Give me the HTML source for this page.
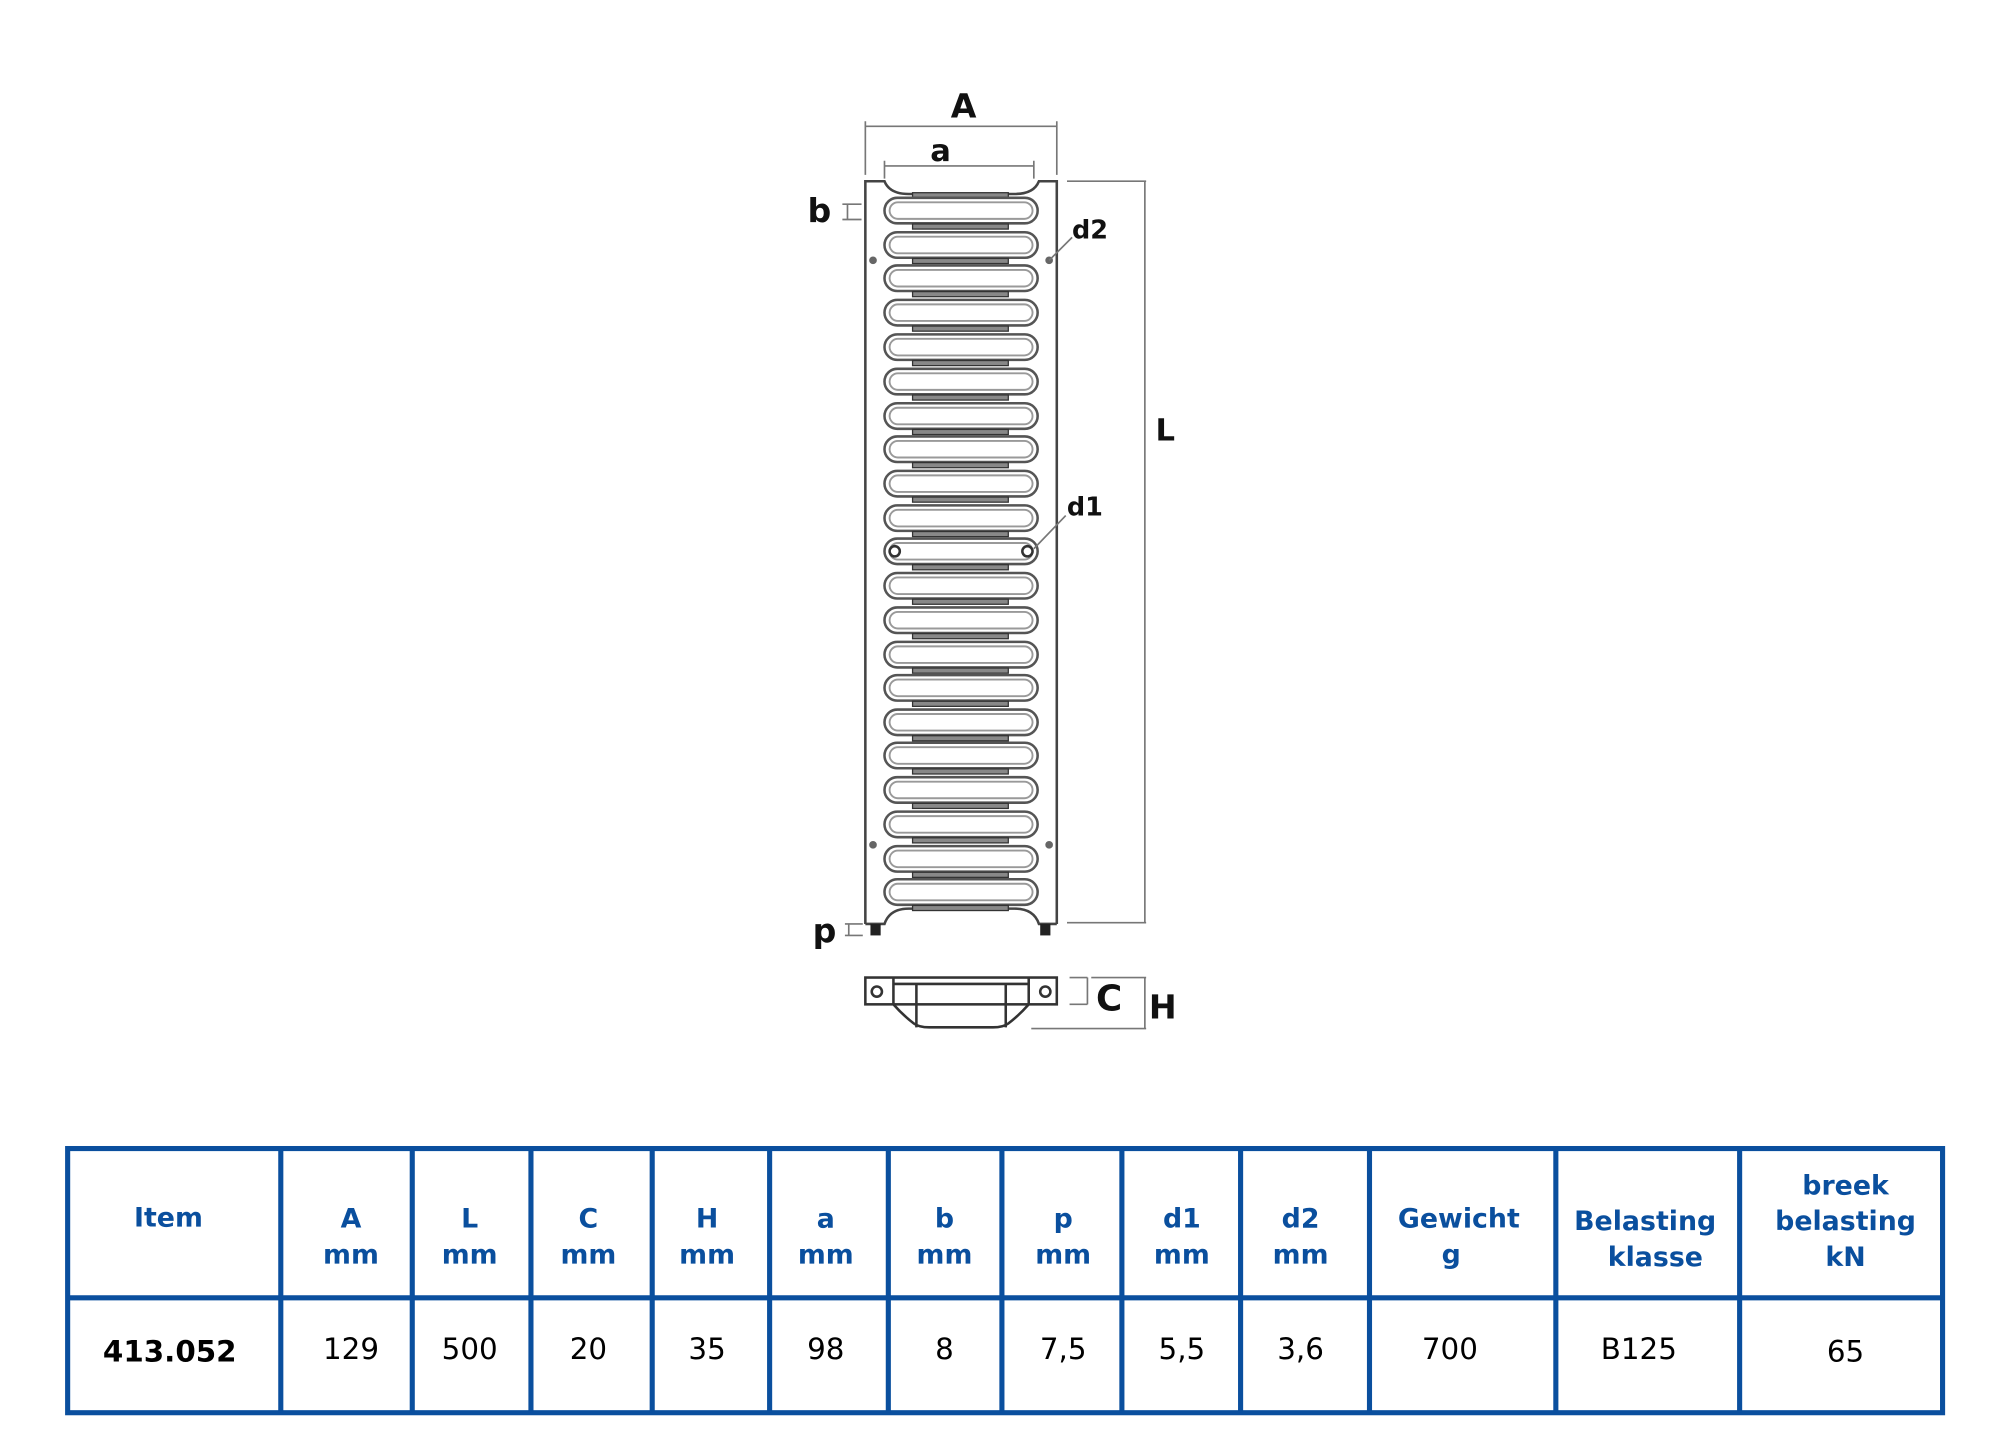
<!DOCTYPE html>
<html><head><meta charset="utf-8"><style>
html,body{margin:0;padding:0;background:#fff}
svg{display:block}
.h{font-family:"DejaVu Sans","Liberation Sans",sans-serif;font-weight:bold;font-size:21px;fill:#0a4f9e;text-anchor:middle}
.v{font-family:"DejaVu Sans","Liberation Sans",sans-serif;font-size:23px;fill:#000;text-anchor:middle}
.d{font-family:"DejaVu Sans","Liberation Sans",sans-serif;font-weight:bold;fill:#111;text-anchor:middle}
</style></head><body>
<svg width="2000" height="1451" viewBox="0 0 1567 1137" preserveAspectRatio="none" xmlns="http://www.w3.org/2000/svg">
<defs>
<g id="s">
<rect x="693" y="-10" width="120" height="20" rx="10" fill="none" stroke="#555" stroke-width="2"/>
<rect x="697" y="-6.5" width="112" height="13" rx="6.5" fill="none" stroke="#999" stroke-width="1.5"/>
<rect x="715" y="10.5" width="75" height="4" fill="#888" stroke="#333" stroke-width="1"/>
</g>
</defs>
<path d="M678 724 V142 H693 Q697 152 712 152 H795 Q810 152 814 142 H828 V724" fill="none" stroke="#444" stroke-width="2"/>
<path d="M678 724 H693 Q697 712 712 712 H795 Q810 712 814 724 H828" fill="none" stroke="#444" stroke-width="2"/>
<rect x="715" y="151" width="75" height="4" fill="#888" stroke="#333" stroke-width="1"/>
<use href="#s" y="165"/><use href="#s" y="192"/><use href="#s" y="218"/><use href="#s" y="245"/>
<use href="#s" y="272"/><use href="#s" y="299"/><use href="#s" y="326"/><use href="#s" y="352"/>
<use href="#s" y="379"/><use href="#s" y="406"/><use href="#s" y="432"/><use href="#s" y="459"/>
<use href="#s" y="486"/><use href="#s" y="513"/><use href="#s" y="539"/><use href="#s" y="566"/>
<use href="#s" y="592"/><use href="#s" y="619"/><use href="#s" y="646"/><use href="#s" y="673"/>
<use href="#s" y="699"/>
<circle cx="701" cy="432" r="4" fill="none" stroke="#333" stroke-width="2"/>
<circle cx="805" cy="432" r="4" fill="none" stroke="#333" stroke-width="2"/>
<circle cx="684" cy="204" r="3" fill="#666"/><circle cx="822" cy="204" r="3" fill="#666"/>
<circle cx="684" cy="662" r="3" fill="#666"/><circle cx="822" cy="662" r="3" fill="#666"/>
<rect x="682" y="724" width="8" height="9" fill="#222"/><rect x="815" y="724" width="8" height="9" fill="#222"/>
<g stroke="#777" stroke-width="1.3" fill="none">
<path d="M678 95 V137 M828 95 V137 M678 99 H828"/>
<path d="M693 126 V140 M810 126 V140 M693 130 H810"/>
<path d="M660 160 H675 M660 172 H675 M664 160 V172"/>
<path d="M836 142 H898 M836 723 H898 M897 142 V723"/>
<path d="M822 204 L840 186 M810 430 L835 404"/>
<path d="M662 724 H676 M662 733 H676 M665 724 V733"/>
<path d="M838 766 H852 M838 787 H852 M852 766 V787"/>
<path d="M855 766 H898 M808 806 H898 M897 766 V806"/>
</g>
<text class="d" x="755" y="92" font-size="26">A</text>
<text class="d" x="737" y="126" font-size="24">a</text>
<text class="d" x="642" y="174" font-size="26">b</text>
<text class="d" x="854" y="187" font-size="20">d2</text>
<text class="d" x="850" y="404" font-size="20">d1</text>
<text class="d" x="913" y="345" font-size="24">L</text>
<text class="d" x="646" y="738" font-size="26">p</text>
<text class="d" x="869" y="792" font-size="28">C</text>
<text class="d" x="911" y="798" font-size="26">H</text>
<g stroke="#333" stroke-width="2" fill="none">
<rect x="678" y="766" width="150" height="21"/>
<path d="M700 766 V787 M806 766 V787 M700 771 H806"/>
<path d="M700 787 Q708 796 716 802 Q720 805 728 805 H778 Q786 805 790 802 Q798 796 806 787"/>
<path d="M718 771 V805 M788 771 V805"/>
<circle cx="687" cy="777" r="4"/><circle cx="819" cy="777" r="4"/>
</g>
<g stroke="#0a4f9e" stroke-width="4" fill="none">
<rect x="53" y="900" width="1469" height="207"/>
<path d="M53 1017 H1522 M220 900 V1107 M323 900 V1107 M416 900 V1107 M511 900 V1107 M603 900 V1107 M696 900 V1107 M785 900 V1107 M879 900 V1107 M972 900 V1107 M1073 900 V1107 M1219 900 V1107 M1363 900 V1107"/>
</g>
<text class="h" x="132" y="961">Item</text>
<text class="h" x="275" y="962">A</text><text class="h" x="275" y="990">mm</text>
<text class="h" x="368" y="962">L</text><text class="h" x="368" y="990">mm</text>
<text class="h" x="461" y="962">C</text><text class="h" x="461" y="990">mm</text>
<text class="h" x="554" y="962">H</text><text class="h" x="554" y="990">mm</text>
<text class="h" x="647" y="962">a</text><text class="h" x="647" y="990">mm</text>
<text class="h" x="740" y="962">b</text><text class="h" x="740" y="990">mm</text>
<text class="h" x="833" y="962">p</text><text class="h" x="833" y="990">mm</text>
<text class="h" x="926" y="962">d1</text><text class="h" x="926" y="990">mm</text>
<text class="h" x="1019" y="962">d2</text><text class="h" x="1019" y="990">mm</text>
<text class="h" x="1143" y="962">Gewicht</text><text class="h" x="1137" y="990">g</text>
<text class="h" x="1289" y="964">Belasting</text><text class="h" x="1297" y="992">klasse</text>
<text class="h" x="1446" y="936">breek</text><text class="h" x="1446" y="964">belasting</text><text class="h" x="1446" y="992">kN</text>
<text class="v" x="133" y="1067" font-weight="bold" font-size="24">413.052</text>
<text class="v" x="275" y="1065">129</text>
<text class="v" x="368" y="1065">500</text>
<text class="v" x="461" y="1065">20</text>
<text class="v" x="554" y="1065">35</text>
<text class="v" x="647" y="1065">98</text>
<text class="v" x="740" y="1065">8</text>
<text class="v" x="833" y="1065">7,5</text>
<text class="v" x="926" y="1065">5,5</text>
<text class="v" x="1019" y="1065">3,6</text>
<text class="v" x="1136" y="1065">700</text>
<text class="v" x="1284" y="1065">B125</text>
<text class="v" x="1446" y="1067">65</text>
</svg>
</body></html>
